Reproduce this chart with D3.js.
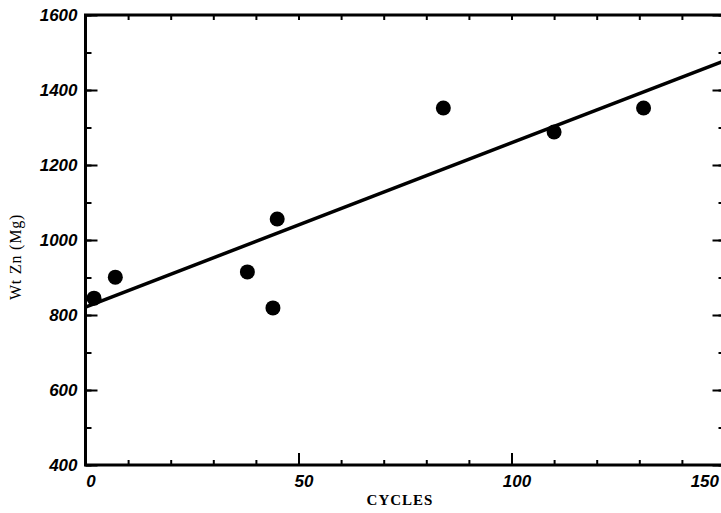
<!DOCTYPE html>
<html>
<head>
<meta charset="utf-8">
<script src="https://cdn.jsdelivr.net/npm/d3@7"></script>
<style>
  body { margin: 0; background: #fff; }
  .tick text { font-family: "Liberation Sans", Arial, sans-serif; font-weight: bold; font-style: italic; font-size: 17px; fill: #000; }
  .domain { display: none; }
</style>
</head>
<body>
<svg width="721" height="513"></svg>
<script>
// data
var cycles = [2, 7, 38, 44, 45, 84, 110, 131];
var wtZn = [845, 901, 915, 819, 1056, 1352, 1288, 1352];
var fitLine = [[0, 821], [150, 1478]];

var xTicks = [0, 50, 100, 150];
var xMinor = d3.range(0, 151, 10);
var yTicks = [400, 600, 800, 1000, 1200, 1400, 1600];
var yMinor = d3.range(400, 1601, 100);

var svg = d3.select('svg');
var margin = {top: 15, left: 85.5};
var width = 639, height = 450;

var x = d3.scaleLinear().domain([0, 150]).range([0, width]);
var y = d3.scaleLinear().domain([400, 1600]).range([height, 0]);

var g = svg.append('g')
  .attr('transform', 'translate(' + margin.left + ',' + margin.top + ')');

// minor ticks on all four sides
g.append('g').attr('transform', 'translate(0,' + height + ')')
  .call(d3.axisBottom(x).tickValues(xMinor).tickSize(-5).tickFormat(''));
g.append('g')
  .call(d3.axisTop(x).tickValues(xMinor).tickSize(-5).tickFormat(''));
g.append('g')
  .call(d3.axisLeft(y).tickValues(yMinor).tickSize(-6).tickFormat(''));
g.append('g').attr('transform', 'translate(' + width + ',0)')
  .call(d3.axisRight(y).tickValues(yMinor).tickSize(-6).tickFormat(''));

// major ticks + labels
var xAxis = g.append('g').attr('transform', 'translate(0,' + height + ')')
  .call(d3.axisBottom(x).tickValues(xTicks).tickSize(-12).tickPadding(8).tickFormat(d3.format('d')));
xAxis.selectAll('.tick text')
  .attr('text-anchor', function(d) { return d === 150 ? 'end' : 'middle'; })
  .attr('dx', function(d) { return d === 150 ? -6 : 5; })
  .attr('dy', '0.8em');

g.append('g')
  .call(d3.axisLeft(y).tickValues(yTicks).tickSize(-12).tickPadding(8).tickFormat(d3.format('d')));
g.append('g').attr('transform', 'translate(' + width + ',0)')
  .call(d3.axisRight(y).tickValues(yTicks).tickSize(-12).tickFormat(''));

g.selectAll('.tick line').attr('stroke', '#000').attr('stroke-width', 2);

// frame
g.append('rect')
  .attr('width', width).attr('height', height)
  .attr('fill', 'none').attr('stroke', '#000').attr('stroke-width', 3);

// regression line
var line = d3.line().x(function(d) { return x(d[0]); }).y(function(d) { return y(d[1]); });
g.append('path')
  .datum(fitLine)
  .attr('d', line)
  .attr('fill', 'none')
  .attr('stroke', '#000')
  .attr('stroke-width', 3.5);

// points
g.selectAll('.dot')
  .data(cycles)
  .enter().append('circle')
  .attr('class', 'dot')
  .attr('cx', function(d) { return x(d); })
  .attr('cy', function(d, i) { return y(wtZn[i]); })
  .attr('r', 7.5)
  .attr('fill', '#000');

// axis titles
svg.append('text')
  .attr('x', margin.left + width / 2 - 5)
  .attr('y', 505)
  .attr('text-anchor', 'middle')
  .style('font-family', '"Liberation Serif", "DejaVu Serif", serif')
  .style('font-weight', 'bold')
  .style('font-size', '15px')
  .style('letter-spacing', '1px')
  .text('CYCLES');

svg.append('text')
  .attr('transform', 'translate(21,' + (margin.top + 242) + ') rotate(-90)')
  .attr('text-anchor', 'middle')
  .style('font-family', '"Liberation Serif", "DejaVu Serif", serif')
  .style('font-size', '16px')
  .style('letter-spacing', '0.8px')
  .text('Wt Zn (Mg)');
</script>
</body>
</html>
